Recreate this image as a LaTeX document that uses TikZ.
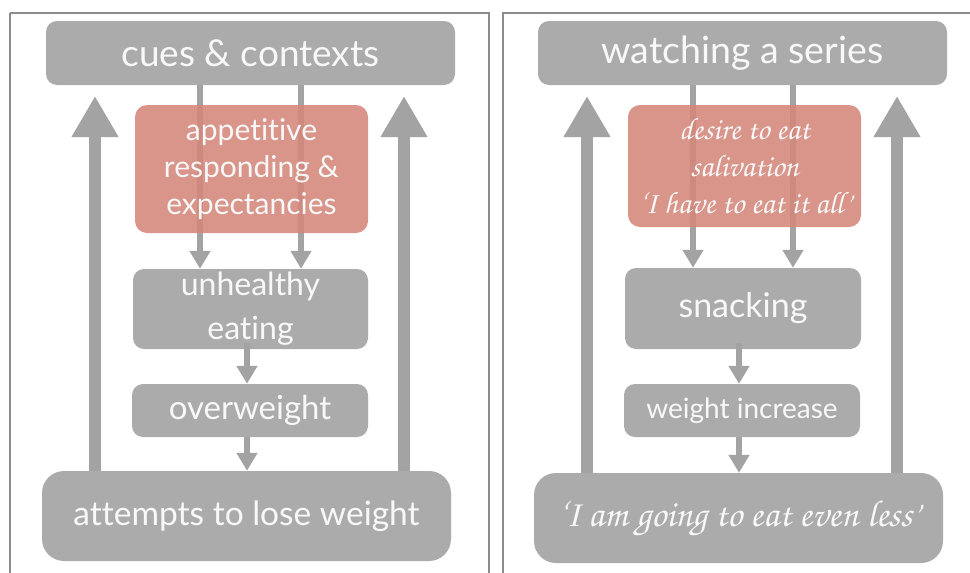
\documentclass[tikz,border=0pt]{standalone}
\usepackage{fontspec}
\setmainfont{Lato}[Ligatures=NoCommon]
\newfontfamily\scriptf{TeX Gyre Chorus}
\usetikzlibrary{arrows.meta}
\definecolor{boxgray}{HTML}{ABABAB}
\definecolor{arrgray}{HTML}{A3A3A3}
\definecolor{redbox}{HTML}{D4877A}
\definecolor{framegray}{HTML}{8C8C8C}
\definecolor{txt}{HTML}{F8F8F8}
\tikzset{
  gbox/.style={fill=boxgray, rounded corners=11pt, text=txt, align=center, inner sep=0pt},
  rbox/.style={fill=redbox, fill opacity=0.88, text opacity=1, rounded corners=12pt, text=txt, align=center, inner sep=0pt},
  darr/.style={draw=arrgray, line width=6pt, -{Triangle[width=20pt,length=18pt]}},
  uarr/.style={draw=arrgray, line width=12pt, -{Triangle[width=44pt,length=41pt]}},
  panel/.style={draw=framegray, line width=2pt},
  mid/.style={font=\fontsize{30}{37}\selectfont},
}
\begin{document}
\begin{tikzpicture}[x=1pt,y=-1pt]
\useasboundingbox (0,0) rectangle (970,573);
\clip (0,0) rectangle (970,573);
\fill[white] (0,0) rectangle (970,573);
% panels
\draw[panel] (10,13) -- (10,590) (10,13) -- (489,13) -- (489,590);
\draw[panel] (503,590) -- (503,13) -- (990,13);
% ---------- left panel ----------
\node[gbox, minimum width=409pt, minimum height=64pt, font=\fontsize{37}{40}\selectfont] (cues) at (250.5,53) {cues \& contexts};
\node[gbox, minimum width=235pt, minimum height=80pt, font=\fontsize{32}{44}\selectfont] (unh) at (250.5,309) {unhealthy\\eating};
\node[gbox, minimum width=236pt, minimum height=53pt, font=\fontsize{33}{38}\selectfont] (over) at (250,410.5) {overweight};
\node[gbox, minimum width=409pt, minimum height=90pt, rounded corners=22pt, font=\fontsize{33.5}{40}\selectfont] (att) at (246.5,516) {attempts to lose weight};
\draw[darr] ([xshift=-50.5pt]cues.south) -- ([xshift=-50.5pt]cues.south |- unh.north);
\draw[darr] ([xshift=50.5pt]cues.south) -- ([xshift=50.5pt]cues.south |- unh.north);
\node[rbox, mid, minimum width=233pt, minimum height=128pt] (app) at (251.5,169) {appetitive\\responding \&\\expectancies};
\draw[darr] ([xshift=-3.5pt,yshift=6pt]unh.south) -- ([xshift=-3.5pt]unh.south |- over.north);
\draw[darr] ([xshift=-3pt]over.south) -- ([xshift=-3pt]over.south |- att.north);
\coordinate (l1) at (95,96);
\coordinate (l2) at (404,96);
\draw[uarr] (att.north -| l1) -- (l1);
\draw[uarr] (att.north -| l2) -- (l2);
% ---------- right panel ----------
\node[gbox, minimum width=409pt, minimum height=64pt, font=\fontsize{37.5}{40}\selectfont] (watch) at (742.5,53) {watching a series};
\node[gbox, minimum width=236pt, minimum height=81pt, font=\fontsize{34}{38}\selectfont] (snack) at (743,308.5) {snacking};
\node[gbox, minimum width=236pt, minimum height=53pt, font=\fontsize{28}{34}\selectfont] (wi) at (742,410.5) {weight increase};
\node[gbox, minimum width=409pt, minimum height=90pt, rounded corners=22pt, font=\scriptf\fontsize{37.5}{44}\selectfont] (less) at (738.5,518) {‘I am going to eat even less’};
\draw[darr] ([xshift=-49.5pt]watch.south) -- ([xshift=-49.5pt]watch.south |- snack.north);
\draw[darr] ([xshift=50.5pt]watch.south) -- ([xshift=50.5pt]watch.south |- snack.north);
\node[rbox, minimum width=233pt, minimum height=122pt, font=\scriptf\fontsize{31}{37}\selectfont] (des) at (744.5,166) {desire to eat\\salivation\\‘I have to eat it all’};
\draw[darr] ([xshift=-4pt,yshift=6pt]snack.south) -- ([xshift=-4pt]snack.south |- wi.north);
\draw[darr] ([xshift=-3pt]wi.south) -- ([xshift=-3pt]wi.south |- less.north);
\coordinate (r1) at (587,96);
\coordinate (r2) at (897,96);
\draw[uarr] (less.north -| r1) -- (r1);
\draw[uarr] (less.north -| r2) -- (r2);
\end{tikzpicture}
\end{document}
